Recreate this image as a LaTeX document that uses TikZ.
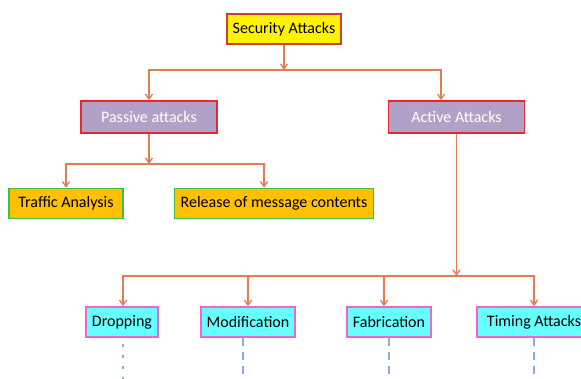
\documentclass[tikz,border=0pt]{standalone}
\usepackage{fontspec}
\setmainfont{Carlito}
\usepackage{xcolor}
\usetikzlibrary{arrows.meta}
\definecolor{AttackLine}{RGB}{228,124,82}
\definecolor{AttackTail}{RGB}{141,171,220}

\begin{document}
\begin{tikzpicture}[
    x=1pt, y=-1pt,
    box/.style={rectangle, draw, line width=1.6pt, minimum height=30pt, inner sep=2pt, align=center, font=\fontsize{16}{18}\selectfont},
    rootbox/.style={box, fill=yellow, draw={rgb,255:red,200;green,64;blue,56}},
    kindbox/.style={box, fill={rgb,255:red,178;green,161;blue,199}, draw={rgb,255:red,232;green,40;blue,48}, text=white, minimum width=136pt, minimum height=32pt},
    passbox/.style={box, fill={rgb,255:red,255;green,192;blue,0}, draw={rgb,255:red,60;green,190;blue,80}},
    actbox/.style={box, fill={rgb,255:red,102;green,255;blue,255}, draw={rgb,255:red,240;green,100;blue,210}},
    arrow/.style={-{Straight Barb[length=5pt, width=7pt]}, line width=1.3pt, AttackLine},
    tail/.style={line width=1.5pt, AttackTail, dash pattern=on 8pt off 6pt},
    dottail/.style={line width=1.5pt, AttackTail, dash pattern=on 3pt off 8pt}
]
    \useasboundingbox (0,0) rectangle (581,378);
    \node[rootbox, minimum width=114pt] (sec) at (284,29) {Security Attacks};
    \node[kindbox] (passive) at (149,117) {Passive attacks};
    \node[kindbox] (active) at (456.5,117) {Active Attacks};
    % Passive kinds
    \node[passbox, minimum width=114pt] (traffic) at (66,203.5) {Traffic Analysis};
    \node[passbox, minimum width=199pt] (release) at (274,203.5) {Release of message contents};
    % Active kinds
    \node[actbox, minimum width=72pt] (drop) at (122,322) {Dropping};
    \node[actbox, minimum width=94pt] (modif) at (248,322) {Modification};
    \node[actbox, minimum width=84pt] (fabric) at (389,322) {Fabrication};
    \node[actbox, minimum width=114pt] (timing) at (534,322) {Timing Attacks};
    \coordinate (jroot) at (284,70);
    \coordinate (jpass) at (149,164);
    \coordinate (jact) at (456.5,276);
    \coordinate (tdrop) at (123,380);
    \coordinate (tmodif) at (243,380);
    \coordinate (tfabric) at (389,380);
    \coordinate (ttiming) at (534,380);
    \draw[arrow] (sec) -- (jroot);
    \foreach \k/\s in {passive/0, active/-15.5} { \draw[arrow] (jroot) -| ([xshift=\s pt]\k.north); }
    \draw[arrow] (passive) -- (jpass);
    \foreach \k/\s in {traffic/0, release/-10} { \draw[arrow] (jpass) -| ([xshift=\s pt]\k.north); }
    \draw[arrow] (active) -- (jact);
    \foreach \k/\s in {drop/1, modif/0, fabric/-5, timing/0} { \draw[arrow] (jact) -| ([xshift=\s pt]\k.north); }
    \draw[dottail] ([yshift=-6pt]drop.south -| tdrop) -- (tdrop);
    \foreach \k in {modif, fabric, timing} { \draw[tail] (\k.south -| t\k) -- (t\k); }
\end{tikzpicture}
\end{document}
